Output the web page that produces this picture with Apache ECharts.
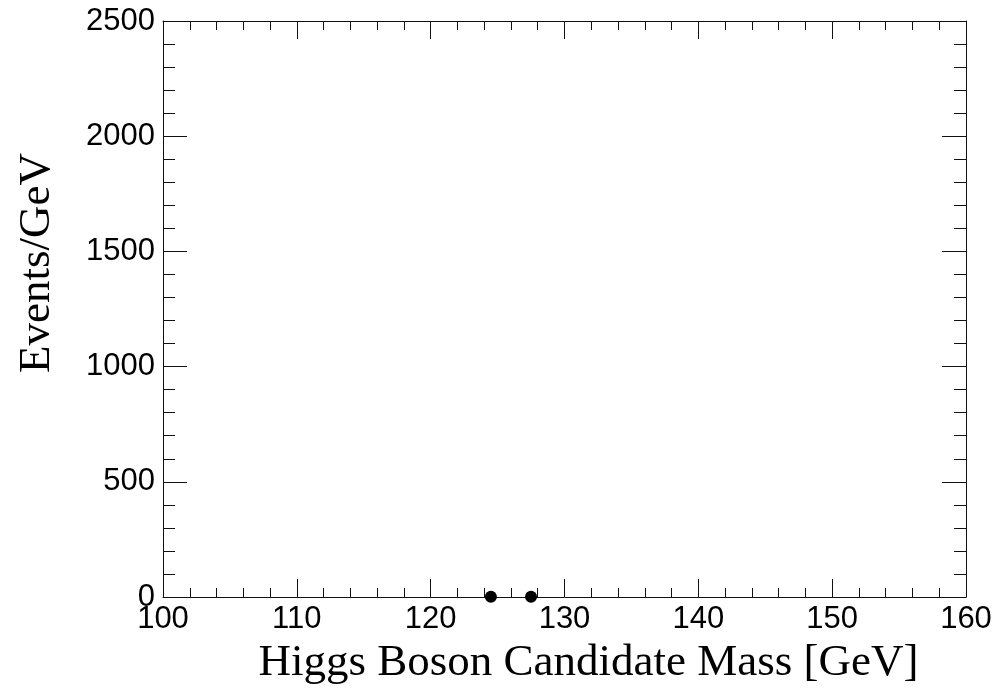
<!DOCTYPE html>
<html>
<head>
<meta charset="utf-8">
<script src="https://cdn.jsdelivr.net/npm/echarts@6/dist/echarts.min.js"></script>
<style>html,body{margin:0;padding:0;background:#fff;}#c{width:998px;height:691px;}</style>
</head>
<body>
<div id="c"></div>
<script>
const massBins = [124.5, 127.5];
const eventsPerGeV = [1, 1];
const xTitle = 'Higgs Boson Candidate Mass [GeV]';
const yTitle = 'Events/GeV';

const chart = echarts.init(document.getElementById('c'), null, {renderer: 'canvas'});
const lineStyle = {color: '#111', width: 1};
const tickFont = {fontFamily: 'Liberation Sans', fontSize: 31, color: '#000'};
const titleFont = {fontFamily: 'Liberation Serif', fontSize: 45, color: '#000'};

function xAx(pos, show) {
  return {
    type: 'value', position: pos, min: 100, max: 160, interval: 10,
    axisLine: {show: true, onZero: false, lineStyle: lineStyle},
    axisTick: {show: true, inside: true, length: 18, lineStyle: lineStyle},
    minorTick: {show: true, splitNumber: 5, length: 9, lineStyle: lineStyle},
    splitLine: {show: false},
    axisLabel: show ? Object.assign({margin: 7, formatter: v => String(v)}, tickFont) : {show: false},
    name: show ? xTitle : '',
    nameLocation: 'middle', nameGap: 44,
    nameTextStyle: Object.assign({padding: [0, 0, 0, 48]}, titleFont)
  };
}
function yAx(pos, show) {
  return {
    type: 'value', position: pos, min: 0, max: 2500, interval: 500,
    axisLine: {show: true, onZero: false, lineStyle: lineStyle},
    axisTick: {show: true, inside: true, length: 24, lineStyle: lineStyle},
    minorTick: {show: true, splitNumber: 5, length: 12, lineStyle: lineStyle},
    splitLine: {show: false},
    axisLabel: show ? Object.assign({margin: 8, formatter: v => String(v)}, tickFont) : {show: false},
    name: show ? yTitle : '',
    nameLocation: 'middle', nameGap: 103, nameRotate: 90,
    nameTextStyle: Object.assign({padding: [0, 0, 0, 92]}, titleFont)
  };
}

chart.setOption({
  animation: false,
  backgroundColor: '#fff',
  grid: {left: 163, right: 32, top: 21, bottom: 92},
  xAxis: [xAx('bottom', true), xAx('top', false)],
  yAxis: [yAx('left', true), yAx('right', false)],
  series: [{
    type: 'scatter',
    xAxisIndex: 0, yAxisIndex: 0,
    symbol: 'circle', symbolSize: 12,
    itemStyle: {color: '#000', opacity: 1},
    data: massBins.map((m, i) => [m, eventsPerGeV[i]])
  }]
});
</script>
</body>
</html>
